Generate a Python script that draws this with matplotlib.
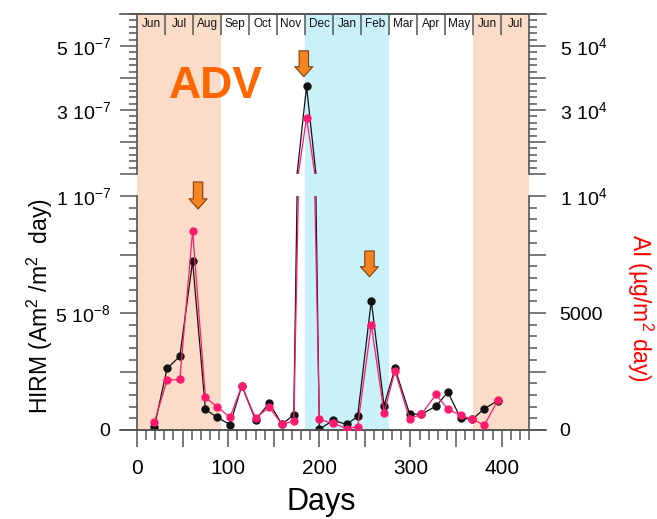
import numpy as np
import matplotlib.pyplot as plt
from matplotlib.ticker import FixedLocator, MultipleLocator

plt.rcParams['font.family'] = ['Liberation Sans', 'DejaVu Sans']
plt.rcParams['mathtext.fontset'] = 'custom'
plt.rcParams['mathtext.rm'] = 'Liberation Sans'
plt.rcParams['mathtext.it'] = 'Liberation Sans:italic'
plt.rcParams['mathtext.bf'] = 'Liberation Sans:bold'

# sampling days and fluxes
days = [19, 33, 47, 61, 75, 88, 102, 115, 130, 145, 159, 172, 186, 200,
        215, 230, 242, 257, 271, 283, 299, 312, 328, 341, 355, 368, 381, 396]
hirm_e9 = [1.4, 26.3, 31.5, 72.2, 8.8, 5.4, 2.3, 18.9, 4.3, 11.5, 2.5, 6.5, 374, 0.3,
           4.1, 2.4, 5.8, 55.3, 10.4, 26.3, 6.9, 6.7, 10.2, 16.2, 5.0, 4.6, 9.1, 12.6]
ai = [330, 2130, 2160, 8510, 1390, 990, 540, 1890, 510, 970, 250, 370, 27600, 450,
      290, 60, 140, 4500, 740, 2520, 480, 670, 1520, 880, 630, 460, 200, 1290]
hirm = np.array(hirm_e9) * 1e-9

months = ['Jun', 'Jul', 'Aug', 'Sep', 'Oct', 'Nov', 'Dec',
          'Jan', 'Feb', 'Mar', 'Apr', 'May', 'Jun', 'Jul']
# shaded seasons as (first month index, last month index + 1, colour)
seasons = [(0, 3, '#fbdcc8'), (6, 9, '#c9f1fa'), (12, 14, '#fbdcc8')]
arrows_lo = [(67, 9.45e-8, 1.06e-7), (255, 6.55e-8, 7.65e-8)]
arrows_up = [(183, 4.04e-7, 4.85e-7)]

xmax = 430
mlen = xmax / len(months)
axc = '#555555'
pink = '#ff1a6e'

fig = plt.figure(figsize=(6.57, 5.19), dpi=100)
L, R = 137 / 657, 529 / 657
W = R - L


def fy(px):
    return 1 - px / 519


bg = fig.add_axes([L, fy(430), W, fy(14) - fy(430)], zorder=0)
ax_up = fig.add_axes([L, fy(174), W, fy(14) - fy(174)], zorder=2)
ax_lo = fig.add_axes([L, fy(430), W, fy(196) - fy(430)], zorder=2)

bg.set_xlim(0, xmax)
bg.set_ylim(0, 1)
bg.axis('off')
for m0, m1, c in seasons:
    bg.axvspan(m0 * mlen, m1 * mlen, color=c, lw=0)

tw_up = ax_up.twinx()
tw_lo = ax_lo.twinx()
for a in (ax_up, ax_lo, tw_up, tw_lo):
    a.patch.set_visible(False)
    a.set_xlim(0, xmax)
    for s in a.spines.values():
        s.set_color(axc)
        s.set_linewidth(1.2)
    a.tick_params(which='both', direction='out', color=axc, width=1.1, labelcolor='#000000')
    a.tick_params(which='major', length=12, labelsize=14, pad=7)
    a.tick_params(which='minor', length=6)
tw_up.set_zorder(3)
tw_lo.set_zorder(3)

# upper (broken) segment
ax_up.set_ylim(1e-7, 6e-7)
tw_up.set_ylim(1e4, 6e4)
ax_up.spines[['bottom', 'right']].set_visible(False)
tw_up.spines[['bottom', 'left', 'top']].set_visible(False)
ax_up.tick_params(axis='x', which='both', bottom=False, labelbottom=False)
tw_up.tick_params(axis='x', which='both', bottom=False, labelbottom=False)
ax_up.yaxis.set_major_locator(FixedLocator([1e-7, 2e-7, 3e-7, 4e-7, 5e-7]))
ax_up.set_yticklabels(['', '', '3 10$^{-7}$', '', '5 10$^{-7}$'])
ax_up.yaxis.set_minor_locator(MultipleLocator(2e-8))
tw_up.yaxis.set_major_locator(FixedLocator([1e4, 2e4, 3e4, 4e4, 5e4]))
tw_up.set_yticklabels(['', '', '3 10$^4$', '', '5 10$^4$'])
tw_up.yaxis.set_minor_locator(MultipleLocator(2e3))
tw_up.tick_params(axis='y', pad=10)

# lower segment
ax_lo.set_ylim(0, 1e-7)
tw_lo.set_ylim(0, 1e4)
ax_lo.spines[['top', 'right']].set_visible(False)
tw_lo.spines[['top', 'left', 'bottom']].set_visible(False)
ax_lo.yaxis.set_major_locator(FixedLocator([0, 2.5e-8, 5e-8, 7.5e-8, 1e-7]))
ax_lo.set_yticklabels(['0', '', '5 10$^{-8}$', '', '1 10$^{-7}$'])
ax_lo.yaxis.set_minor_locator(MultipleLocator(5e-9))
tw_lo.yaxis.set_major_locator(FixedLocator([0, 2500, 5000, 7500, 1e4]))
tw_lo.set_yticklabels(['0', '', '5000', '', '1 10$^4$'])
tw_lo.yaxis.set_minor_locator(MultipleLocator(500))
tw_lo.tick_params(axis='y', pad=10)
xt = np.arange(0, xmax + 1, 50)
ax_lo.xaxis.set_major_locator(FixedLocator(xt))
ax_lo.set_xticklabels([str(v) if v % 100 == 0 else '' for v in xt])
ax_lo.xaxis.set_minor_locator(MultipleLocator(10))
ax_lo.tick_params(axis='x', which='major', labelsize=15, pad=9)
ax_lo.tick_params(axis='x', which='minor', length=7)

# extended frame lines top and bottom
ext = 17 / 392
for a, yy in ((ax_lo, 0), (ax_up, 1)):
    a.plot([-ext, 1 + ext], [yy, yy], transform=a.transAxes, color=axc, lw=1.2, clip_on=False)

# data
for a in (ax_up, ax_lo):
    a.plot(days, hirm, '-o', color='#111111', lw=0.9, ms=5)
for a in (tw_up, tw_lo):
    a.plot(days, ai, '-o', color=pink, lw=0.9, ms=5)

# month strip
bounds = np.arange(1, len(months)) * mlen
ax_up.vlines(bounds, 1 - 21 / 160, 1, transform=ax_up.get_xaxis_transform(), color=axc, lw=1.1)
for i, m in enumerate(months):
    ax_up.text((i + 0.5) * mlen, 1 - 10 / 160, m, transform=ax_up.get_xaxis_transform(),
               ha='center', va='center', fontsize=8.5, color='#111111')

ax_up.text(87, 3.39e-7, 'ADV', fontsize=32, fontweight='bold', color='#ff6600',
           ha='center', va='baseline')

aprops = dict(arrowstyle='simple,head_length=0.36,head_width=0.65,tail_width=0.34',
              fc='#f5831f', ec='#7f3f10', lw=0.8, shrinkA=0, shrinkB=0,
              mutation_scale=20, clip_on=False)
for x, tip, tail in arrows_lo:
    ax_lo.annotate('', xy=(x, tip), xytext=(x, tail), arrowprops=aprops, annotation_clip=False)
for x, tip, tail in arrows_up:
    ax_up.annotate('', xy=(x, tip), xytext=(x, tail), arrowprops=aprops, annotation_clip=False)

fig.text(40 / 657, fy(306), 'HIRM (Am$^2$ /m$^2$  day)', rotation=90, fontsize=16.5,
         ha='center', va='center')
fig.text(640 / 657, fy(308), 'AI (\u00b5g/m$^2$ day)', rotation=270, fontsize=16.5,
         ha='center', va='center', color='#ff0000')
fig.text(321 / 657, fy(502), 'Days', fontsize=22, ha='center', va='center')

fig.savefig('out.png', dpi=100)
